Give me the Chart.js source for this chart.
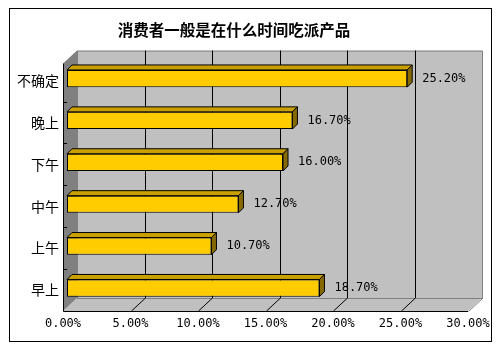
<!DOCTYPE html>
<html>
<head>
<meta charset="utf-8">
<script src="https://cdn.jsdelivr.net/npm/chart.js@4.4.0/dist/chart.umd.min.js"></script>
<style>
  body { margin: 0; background: #fff; }
  canvas { display: block; }
</style>
</head>
<body>
<canvas id="chart-area" width="498" height="352"></canvas>
<script>
// data
var categories = ["不确定", "晚上", "下午", "中午", "上午", "早上"];
var values = [25.2, 16.7, 16.0, 12.7, 10.7, 18.7];
var xTicks = [0, 5, 10, 15, 20, 25, 30];

var monoFont = "'DejaVu Sans Mono', 'Liberation Mono', monospace";
var cjkFont = "'Noto Sans CJK SC', sans-serif";

// depth of the walls and of the bars
var wall = { dx: 14, dy: -13 };
var bar3d = { dx: 5, dy: -5 };
var barShift = { dx: 4, dy: -2 };

var box3d = {
    id: "box3d",
    beforeDatasetsDraw: function (chart) {
        var ctx = chart.ctx;
        var a = chart.chartArea;
        var x = chart.scales.x;
        var y = chart.scales.y;
        var L = a.left, R = a.right, B = a.bottom;
        var T = a.top + 4;

        ctx.save();
        ctx.lineWidth = 1;

        // back wall
        ctx.fillStyle = "#C0C0C0";
        ctx.fillRect(L + wall.dx, T + wall.dy, R - L, B - T);
        ctx.strokeStyle = "#808080";
        ctx.strokeRect(L + wall.dx + 0.5, T + wall.dy + 0.5, R - L, B - T);

        // floor
        ctx.beginPath();
        ctx.moveTo(L, B);
        ctx.lineTo(R, B);
        ctx.lineTo(R + wall.dx, B + wall.dy);
        ctx.lineTo(L + wall.dx, B + wall.dy);
        ctx.closePath();
        ctx.fillStyle = "#C0C0C0";
        ctx.fill();
        ctx.beginPath();
        ctx.moveTo(L + wall.dx, B + wall.dy + 0.5);
        ctx.lineTo(R + wall.dx, B + wall.dy + 0.5);
        ctx.moveTo(R + 0.5, B + 0.5);
        ctx.lineTo(R + wall.dx + 0.5, B + wall.dy + 0.5);
        ctx.strokeStyle = "#808080";
        ctx.stroke();

        // left wall
        ctx.beginPath();
        ctx.moveTo(L, T);
        ctx.lineTo(L + wall.dx, T + wall.dy);
        ctx.lineTo(L + wall.dx, B + wall.dy);
        ctx.lineTo(L, B);
        ctx.closePath();
        ctx.fillStyle = "#808080";
        ctx.fill();

        // gridlines on the back wall and the floor
        ctx.strokeStyle = "#000";
        ctx.beginPath();
        xTicks.forEach(function (t) {
            if (t === 0 || t === 30) return;
            var px = Math.round(x.getPixelForValue(t)) + 0.5;
            ctx.moveTo(px + wall.dx, T + wall.dy);
            ctx.lineTo(px + wall.dx, B + wall.dy);
            ctx.moveTo(px, B);
            ctx.lineTo(px + wall.dx, B + wall.dy);
        });
        ctx.stroke();

        // front axis lines
        ctx.beginPath();
        ctx.moveTo(L + 0.5, T);
        ctx.lineTo(L + 0.5, B + 0.5);
        ctx.lineTo(R, B + 0.5);
        // category ticks
        for (var i = 1; i < categories.length; i++) {
            var yb = Math.round((y.getPixelForValue(i - 1) + y.getPixelForValue(i)) / 2) + 0.5;
            ctx.moveTo(L, yb);
            ctx.lineTo(L + 4, yb);
        }
        ctx.stroke();
        ctx.restore();

        // bars are set a little into the depth
        ctx.save();
        ctx.translate(barShift.dx, barShift.dy);
    },
    afterDatasetsDraw: function (chart) {
        var ctx = chart.ctx;
        var meta = chart.getDatasetMeta(0);
        ctx.lineWidth = 1;
        ctx.strokeStyle = "#000";
        meta.data.forEach(function (el, i) {
            var p = el.getProps(["x", "y", "base", "height"], true);
            var top = p.y - p.height / 2;
            var bot = p.y + p.height / 2;
            // top face
            ctx.beginPath();
            ctx.moveTo(p.base, top);
            ctx.lineTo(p.x, top);
            ctx.lineTo(p.x + bar3d.dx, top + bar3d.dy);
            ctx.lineTo(p.base + bar3d.dx, top + bar3d.dy);
            ctx.closePath();
            ctx.fillStyle = "#C9A000";
            ctx.fill();
            ctx.stroke();
            // side face
            ctx.beginPath();
            ctx.moveTo(p.x, top);
            ctx.lineTo(p.x + bar3d.dx, top + bar3d.dy);
            ctx.lineTo(p.x + bar3d.dx, bot + bar3d.dy);
            ctx.lineTo(p.x, bot);
            ctx.closePath();
            ctx.fillStyle = "#866A00";
            ctx.fill();
            ctx.stroke();
            // value label
            ctx.fillStyle = "#000";
            ctx.font = "12px " + monoFont;
            ctx.textAlign = "left";
            ctx.textBaseline = "middle";
            ctx.fillText(values[i].toFixed(2) + "%", p.x + bar3d.dx + 10, p.y);
        });
        ctx.restore();
    },
    afterDraw: function (chart) {
        var ctx = chart.ctx;
        ctx.save();
        ctx.strokeStyle = "#000";
        ctx.lineWidth = 1;
        ctx.strokeRect(9.5, 8.5, 482, 333);
        ctx.restore();
    }
};

var ctx = document.getElementById("chart-area");

var myChart = new Chart(ctx, {
    type: "bar",
    data: {
        labels: categories,
        datasets: [
            {
                data: values,
                backgroundColor: "#FFCC00",
                borderColor: "#000",
                borderWidth: 1,
                borderSkipped: false,
                categoryPercentage: 1,
                barPercentage: 0.41
            }
        ]
    },
    options: {
        indexAxis: "y",
        responsive: false,
        animation: false,
        devicePixelRatio: 1,
        layout: {
            padding: { left: 0, right: 30, top: 0, bottom: 0 }
        },
        plugins: {
            legend: { display: false },
            tooltip: { enabled: false },
            title: {
                display: true,
                text: "消费者一般是在什么时间吃派产品",
                color: "#000",
                font: { family: cjkFont, size: 15.5, weight: "bold", lineHeight: 1.2 },
                padding: { top: 21, bottom: 20 }
            }
        },
        scales: {
            x: {
                type: "linear",
                min: 0,
                max: 30,
                grid: { display: false, drawTicks: false },
                border: { display: false },
                ticks: {
                    stepSize: 5,
                    padding: 6,
                    color: "#000",
                    font: { family: monoFont, size: 12 },
                    maxRotation: 0,
                    callback: function (v) { return v.toFixed(2) + "%"; }
                },
                afterFit: function (s) { s.height = 41; }
            },
            y: {
                grid: { display: false, drawTicks: false },
                border: { display: false },
                ticks: {
                    padding: 4,
                    color: "#000",
                    font: { family: cjkFont, size: 14 }
                },
                afterFit: function (s) { s.width = 63; }
            }
        }
    },
    plugins: [box3d]
});
</script>
</body>
</html>
